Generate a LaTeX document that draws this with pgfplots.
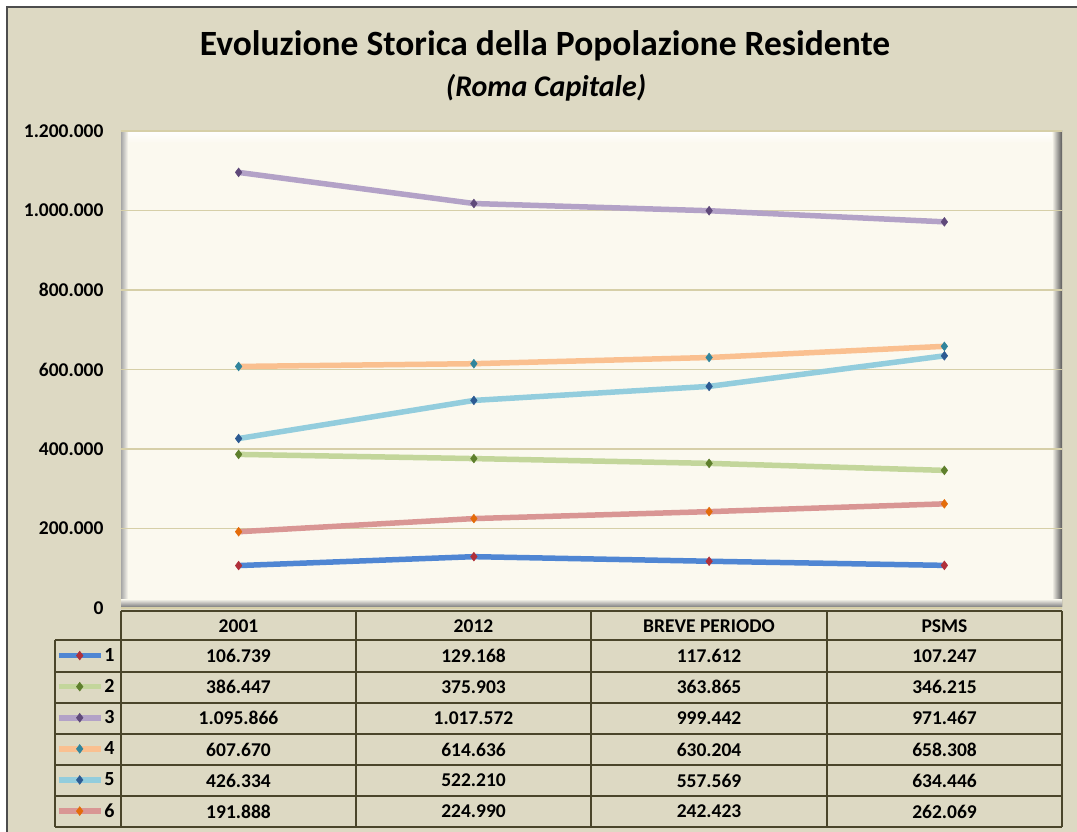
\documentclass[border=0pt]{standalone}
\usepackage{fontspec}
\setmainfont{Carlito}
\usepackage{pgfplots}
\pgfplotsset{compat=1.18}
\definecolor{bgtan}{HTML}{DDD9C3}
\definecolor{framec}{HTML}{4D4D4D}
\definecolor{plotbg}{HTML}{FBF9EF}
\definecolor{gridc}{HTML}{D6CFA8}
\definecolor{tabc}{HTML}{4A452A}
\definecolor{lA}{HTML}{4F86D3}\definecolor{mA}{HTML}{B0303A}
\definecolor{lB}{HTML}{C3D69B}\definecolor{mB}{HTML}{5E7F2C}
\definecolor{lC}{HTML}{B3A2C7}\definecolor{mC}{HTML}{5F497A}
\definecolor{lD}{HTML}{FAC090}\definecolor{mD}{HTML}{31859C}
\definecolor{lE}{HTML}{93CDDD}\definecolor{mE}{HTML}{2C5A92}
\definecolor{lF}{HTML}{D99694}\definecolor{mF}{HTML}{E46C0A}
\begin{document}
\begin{tikzpicture}
\useasboundingbox (0,0) rectangle (1077pt,-832pt);
\begin{scope}[x=1pt,y=-1pt]
\fill[white] (0,0) rectangle (1077,832);
\fill[bgtan] (7,7) rectangle (1090,845);
\draw[framec, line width=1.5pt] (7,845) -- (7,7) -- (1090,7);
% plot area with bevel
\fill[plotbg] (121,131) rectangle (1062,606);
\shade[top color=white, bottom color=plotbg] (121,131) rectangle (1062,143);
\shade[left color=plotbg, right color=black!65] (1052,131) rectangle (1062,606);
\shade[left color=black!35, right color=plotbg] (121,131) rectangle (128,606);
\shade[top color=plotbg, bottom color=black!45] (121,599) rectangle (1062,606);
\node[font=\fontsize{35.5}{40}\selectfont\bfseries, anchor=base] at (545,56) {Evoluzione Storica della Popolazione Residente};
\node[font=\fontsize{30}{34}\selectfont\bfseries\itshape, anchor=base] at (546,97) {(Roma Capitale)};
\end{scope}
\begin{axis}[
  at={(121pt,-608pt)}, anchor=south west,
  scale only axis, width=941pt, height=477pt,
  xmin=-0.5, xmax=3.5, ymin=0, ymax=1200000,
  xtick=\empty,
  ytick={0,200000,400000,600000,800000,1000000,1200000},
  scaled y ticks=false,
  /pgf/number format/assume math mode=true,
  yticklabel style={font=\fontsize{19.5}{23}\selectfont\bfseries,
    /pgf/number format/.cd, fixed, 1000 sep={.}},
  yticklabel shift=14pt,
  axis line style={draw=none},
  tick style={draw=none},
  ymajorgrids, major grid style={gridc, line width=1.2pt},
  clip=false,
  every axis plot/.append style={line width=5.5pt, mark=diamond*, mark size=4.4pt},
  legend style={at={(axis description cs:-0.0691,-0.06709)}, anchor=north west,
    draw=none, fill=none, inner sep=0pt, outer sep=0pt, row sep=0pt, column sep=1pt,
    nodes={inner sep=0pt, minimum height=31.1pt, font=\fontsize{20}{24}\selectfont\bfseries},
    cells={anchor=west}},
  legend image code/.code={\draw[mark repeat=2,mark phase=2,#1] plot coordinates {(0pt,0pt) (21pt,0pt) (42pt,0pt)};},
]
\addplot[lA, mark options={fill=mA, draw=mA, line width=0.5pt}] coordinates {(0,106739) (1,129168) (2,117612) (3,107247)};
\addlegendentry{1}
\addplot[lB, mark options={fill=mB, draw=mB, line width=0.5pt}] coordinates {(0,386447) (1,375903) (2,363865) (3,346215)};
\addlegendentry{2}
\addplot[lC, mark options={fill=mC, draw=mC, line width=0.5pt}] coordinates {(0,1095866) (1,1017572) (2,999442) (3,971467)};
\addlegendentry{3}
\addplot[lD, mark options={fill=mD, draw=mD, line width=0.5pt}] coordinates {(0,607670) (1,614636) (2,630204) (3,658308)};
\addlegendentry{4}
\addplot[lE, mark options={fill=mE, draw=mE, line width=0.5pt}] coordinates {(0,426334) (1,522210) (2,557569) (3,634446)};
\addlegendentry{5}
\addplot[lF, mark options={fill=mF, draw=mF, line width=0.5pt}] coordinates {(0,191888) (1,224990) (2,242423) (3,262069)};
\addlegendentry{6}
\end{axis}
\begin{scope}[x=1pt,y=-1pt]
\draw[tabc, line width=2pt] (121,611) -- (1062,611);
\foreach \yy in {640,671.5,702.7,733.8,764.9,796,827} {\draw[tabc, line width=2pt] (55,\yy) -- (1062,\yy);}
\foreach \xx in {121,356,591,827,1062} {\draw[tabc, line width=2pt] (\xx,611) -- (\xx,827);}
\draw[tabc, line width=2pt] (55,640) -- (55,827);
\begin{scope}[every node/.style={font=\fontsize{19.5}{23}\selectfont\bfseries, anchor=center}]
\node at (238.5,626) {2001};
\node at (473.5,626) {2012};
\node at (709,626) {BREVE PERIODO};
\node at (944.5,626) {PSMS};
\node at (238.5,656) {106.739}; \node at (473.5,656) {129.168}; \node at (709,656) {117.612}; \node at (944.5,656) {107.247};
\node at (238.5,687) {386.447}; \node at (473.5,687) {375.903}; \node at (709,687) {363.865}; \node at (944.5,687) {346.215};
\node at (238.5,718) {1.095.866}; \node at (473.5,718) {1.017.572}; \node at (709,718) {999.442}; \node at (944.5,718) {971.467};
\node at (238.5,749.5) {607.670}; \node at (473.5,749.5) {614.636}; \node at (709,749.5) {630.204}; \node at (944.5,749.5) {658.308};
\node at (238.5,780.5) {426.334}; \node at (473.5,780.5) {522.210}; \node at (709,780.5) {557.569}; \node at (944.5,780.5) {634.446};
\node at (238.5,811.5) {191.888}; \node at (473.5,811.5) {224.990}; \node at (709,811.5) {242.423}; \node at (944.5,811.5) {262.069};
\end{scope}
\end{scope}
\end{tikzpicture}
\end{document}
